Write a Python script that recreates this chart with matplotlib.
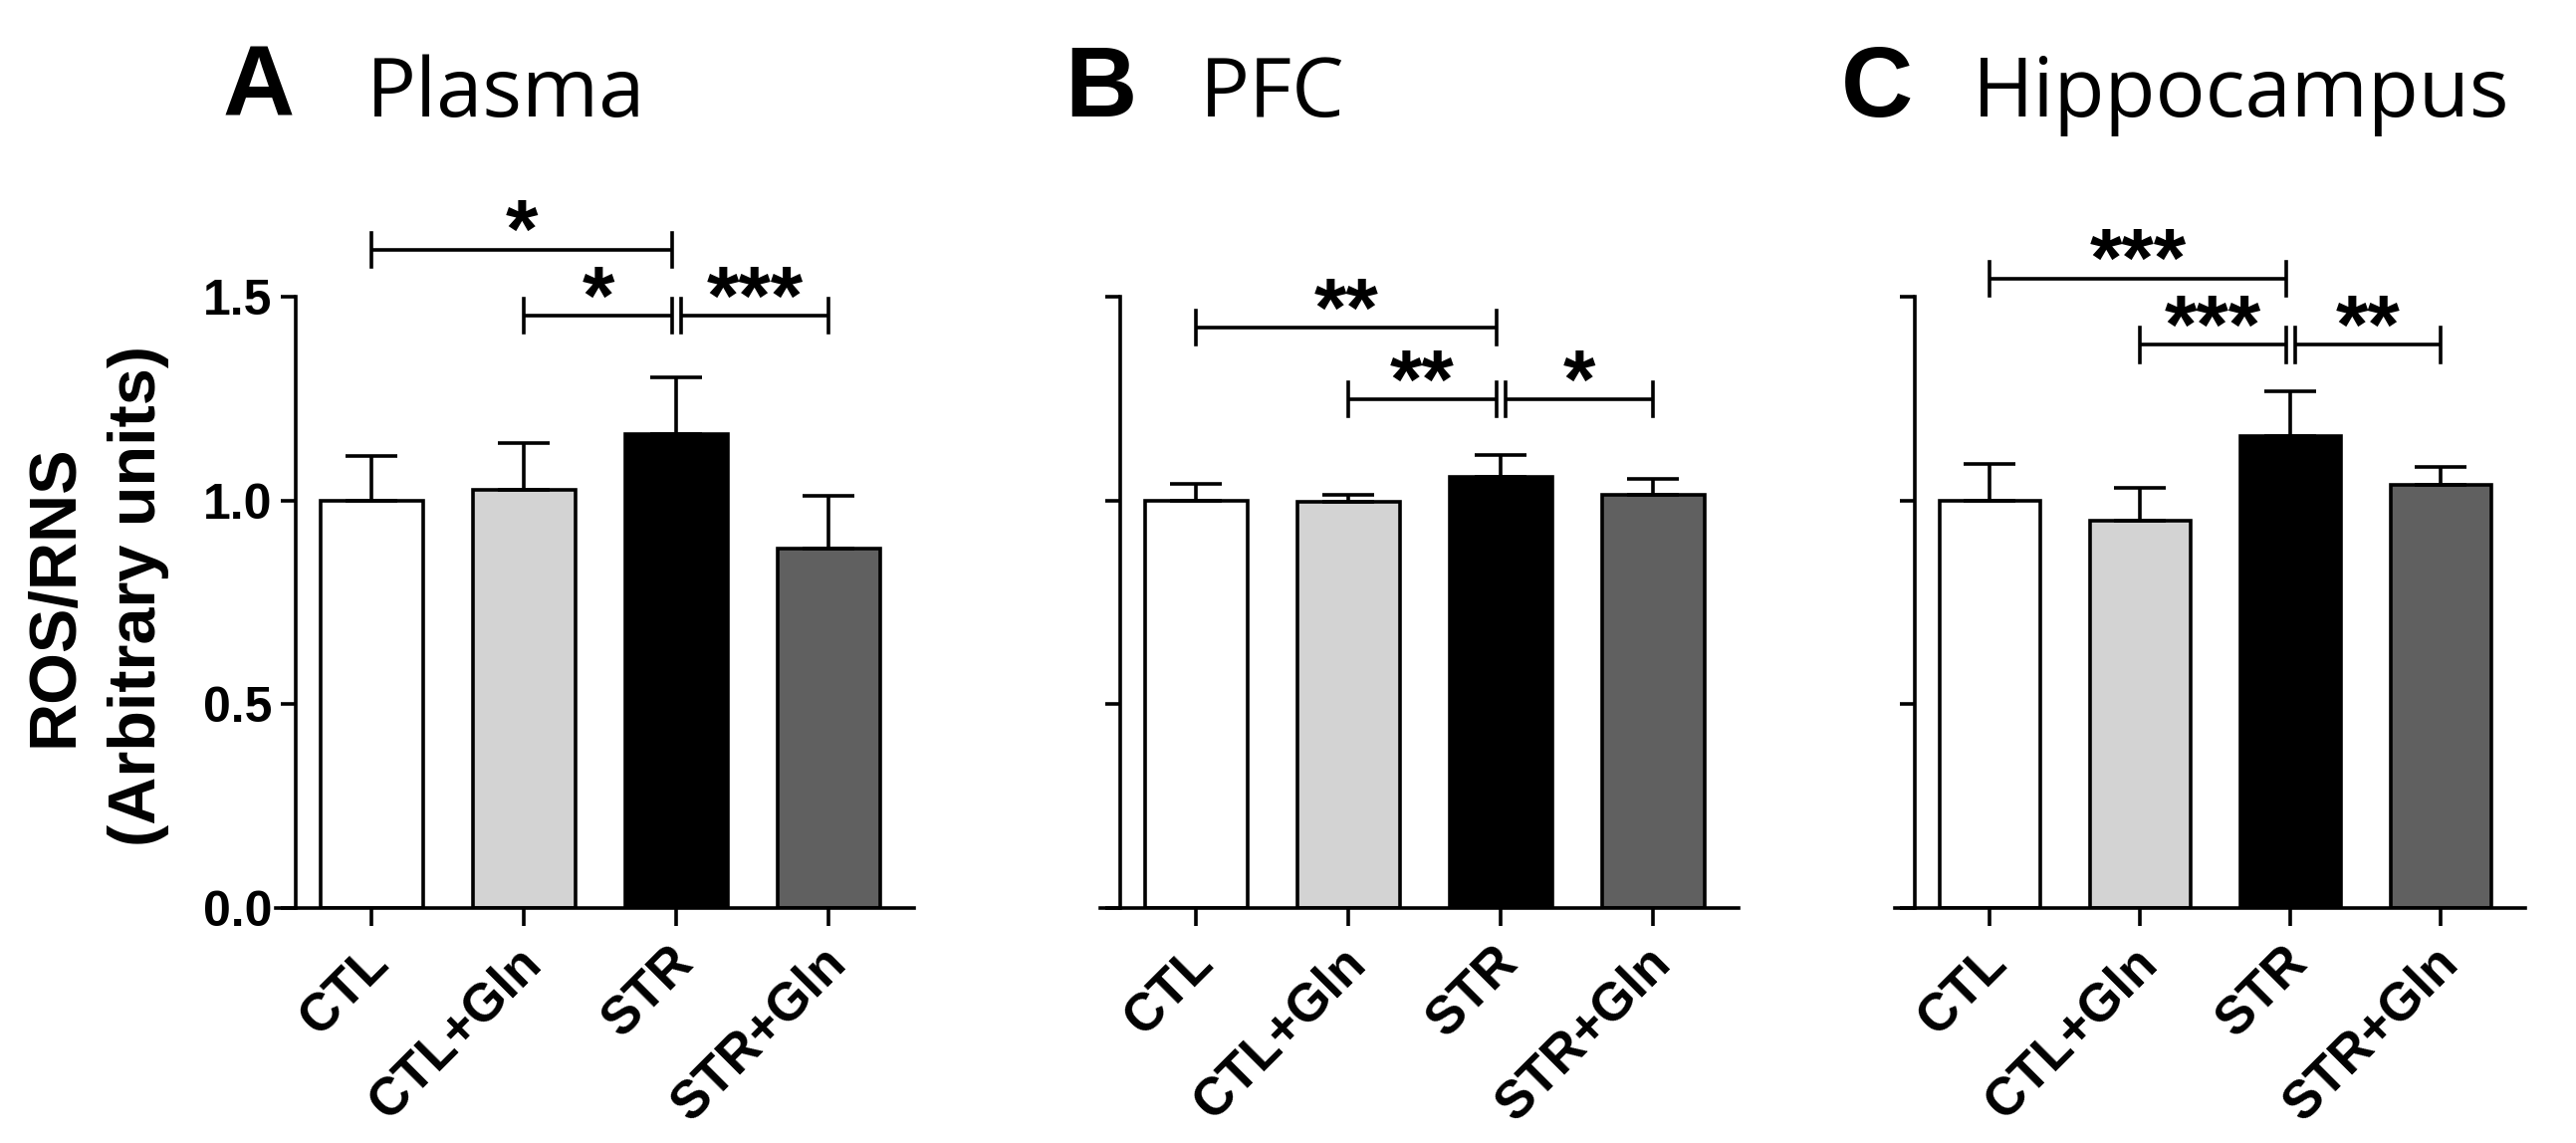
import matplotlib
matplotlib.use("Agg")
import matplotlib.pyplot as plt
from matplotlib.transforms import ScaledTranslation
import numpy as np

groups = ["CTL", "CTL+Gln", "STR", "STR+Gln"]
colors = ["#ffffff", "#d3d3d3", "#000000", "#606060"]

panel_letters = ["A", "B", "C"]
panel_names = ["Plasma", "PFC", "Hippocampus"]

plasma_mean = [1.00, 1.025, 1.162, 0.883]
plasma_sem = [0.108, 0.117, 0.140, 0.128]
pfc_mean = [1.00, 0.996, 1.059, 1.014]
pfc_sem = [0.041, 0.018, 0.052, 0.040]
hippo_mean = [1.00, 0.951, 1.157, 1.038]
hippo_sem = [0.090, 0.080, 0.111, 0.045]

# (height, from group, to group, stars)
plasma_sig = [(1.615, 0, 2, "*"), (1.453, 1, 2, "*"), (1.453, 2, 3, "***")]
pfc_sig = [(1.424, 0, 2, "**"), (1.248, 1, 2, "**"), (1.248, 2, 3, "*")]
hippo_sig = [(1.544, 0, 2, "***"), (1.382, 1, 2, "***"), (1.382, 2, 3, "**")]

means = [plasma_mean, pfc_mean, hippo_mean]
sems = [plasma_sem, pfc_sem, hippo_sem]
sigs = [plasma_sig, pfc_sig, hippo_sig]

W, H = 2587, 1148
fig = plt.figure(figsize=(W / 100, H / 100), dpi=100)

ax_left = [277, 1105, 1903]
ax_width = [641, 641, 633]
letter_x = [224, 1069, 1849]
name_x = [368, 1205, 1981]

bold = "Liberation Sans"
lw = 2.6
shift_left = ScaledTranslation(-8 / 100, 0, fig.dpi_scale_trans)

for i in range(3):
    ax = fig.add_axes([ax_left[i] / W, 0.2056, ax_width[i] / W, 0.5348])
    x = np.arange(len(groups))
    ax.bar(x, means[i], width=0.67, color=colors, edgecolor="black", linewidth=lw, zorder=2)
    ax.errorbar(x, means[i], yerr=[np.zeros(4), sems[i]], fmt="none", ecolor="black",
                elinewidth=lw, capsize=19, capthick=lw, zorder=3)

    ax.set_xlim(-0.63, 3.56)
    ax.set_ylim(0, 1.5)
    ax.spines["top"].set_visible(False)
    ax.spines["right"].set_visible(False)
    ax.spines["left"].set_position(("data", -0.5))
    ax.spines["left"].set_linewidth(lw)
    ax.spines["bottom"].set_linewidth(lw)
    ax.spines["bottom"].set_zorder(4)

    ax.set_yticks([0, 0.5, 1.0, 1.5])
    ax.set_xticks(x)
    ax.tick_params(axis="y", length=11, width=lw, pad=6)
    ax.tick_params(axis="x", length=13, width=lw, pad=8)
    if i == 0:
        ax.set_yticklabels(["0.0", "0.5", "1.0", "1.5"], fontsize=36,
                           fontfamily=bold, fontweight="bold")
    else:
        ax.set_yticklabels([])
    ax.set_xticklabels(groups, rotation=45, ha="right", rotation_mode="anchor",
                       fontsize=38, fontfamily=bold, fontweight="bold")
    for lab in ax.get_xticklabels():
        lab.set_transform(lab.get_transform() + shift_left)

    for (y, a, b, stars) in sigs[i]:
        x1 = a if a != 2 else a + 0.03
        x2 = b if b != 2 else b - 0.03
        ax.plot([x1, x2], [y, y], color="black", lw=lw, clip_on=False, solid_capstyle="butt")
        for xe in (x1, x2):
            ax.plot([xe, xe], [y - 0.042, y + 0.042], color="black", lw=lw, clip_on=False)
        ax.annotate(stars, xy=((x1 + x2) / 2, y), xytext=(0, -6), textcoords="offset points",
                    ha="center", va="baseline", fontsize=60, fontfamily=bold,
                    fontweight="bold", annotation_clip=False)

    fig.text(letter_x[i] / W, 1 - 117 / H, panel_letters[i], fontsize=72,
             fontfamily=bold, fontweight="bold", ha="left", va="baseline")
    fig.text(name_x[i] / W, 1 - 117 / H, panel_names[i], fontsize=60,
             fontfamily="Open Sans", ha="left", va="baseline")

fig.text(97 / W, 1 - 598 / H, "ROS/RNS\n(Arbitrary units)", rotation=90, ha="center",
         va="center", multialignment="center", fontsize=48, fontfamily=bold,
         fontweight="bold", linespacing=1.45)

fig.savefig("out.png", dpi=100)
